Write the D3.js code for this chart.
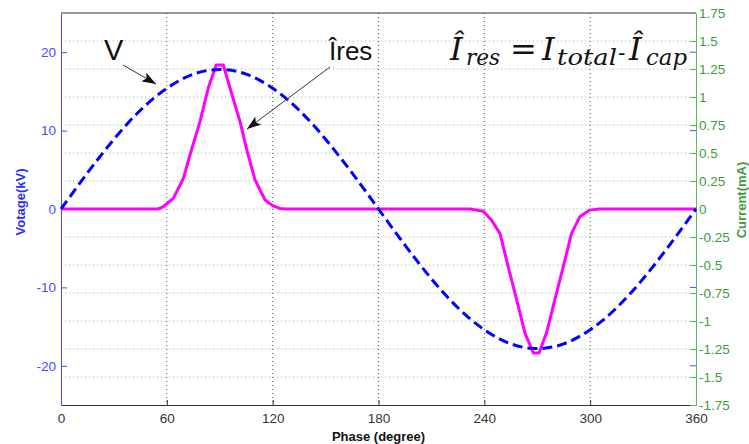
<!DOCTYPE html>
<html>
<head>
<meta charset="utf-8">
<script src="https://cdn.jsdelivr.net/npm/d3@7/dist/d3.min.js"></script>
<style>
  body { margin: 0; background: #fff; }
  svg { display: block; font-family: Arial, "Liberation Sans", sans-serif; }
</style>
</head>
<body>
<div id="chart"></div>
<script>
// supply voltage, read every 15 degrees (kV)
var phaseV = [0, 15, 30, 45, 60, 75, 90, 105, 120, 135, 150, 165, 180,
              195, 210, 225, 240, 255, 270, 285, 300, 315, 330, 345, 360];
var voltage = [0, 4.6, 8.9, 12.6, 15.4, 17.2, 17.8, 17.2, 15.4, 12.6, 8.9, 4.6, 0,
               -4.6, -8.9, -12.6, -15.4, -17.2, -17.8, -17.2, -15.4, -12.6, -8.9, -4.6, 0];

// resistive current (mA)
var phaseI = [0, 55, 58, 63.7, 69.3, 73.1, 78.8, 83.5, 88, 92, 95.8, 101.5, 105.3, 110, 115.7, 120, 124, 128,
              232, 239.4, 244.1, 248.9, 253.6, 258.3, 263.1, 267.8, 271, 275.2, 280, 284.7, 289.4, 294.1, 299.8, 305, 360];
var current = [0, 0, 0.02, 0.095, 0.27, 0.48, 0.78, 1.08, 1.285, 1.285, 1.08, 0.78, 0.53, 0.26, 0.08, 0.03, 0.005, 0,
               0, -0.02, -0.1, -0.22, -0.52, -0.81, -1.11, -1.285, -1.285, -1.11, -0.81, -0.52, -0.22, -0.07, -0.01, 0, 0];

var xTicks = [0, 60, 120, 180, 240, 300, 360];
var vTicks = [-20, -10, 0, 10, 20];
var iTicks = [-1.75, -1.5, -1.25, -1, -0.75, -0.5, -0.25, 0, 0.25, 0.5, 0.75, 1, 1.25, 1.5, 1.75];

var W = 749, H = 444;
var margin = {top: 13, right: 53, bottom: 39, left: 61},
    width = W - margin.left - margin.right,
    height = H - margin.top - margin.bottom;

var blue = "#0000ff", leftCol = "#4b4bff", green = "#3d9b3d", greenLine = "#5db85d";

// plain hyphen like the original, no trailing zeros
function fmt(d) { return String(+d.toFixed(2)); }

var svg = d3.select("#chart").append("svg")
    .attr("width", W)
    .attr("height", H);

var defs = svg.append("defs");
defs.append("marker")
    .attr("id", "arrow")
    .attr("markerUnits", "userSpaceOnUse")
    .attr("viewBox", "0 0 14 10")
    .attr("refX", 14).attr("refY", 5)
    .attr("markerWidth", 14).attr("markerHeight", 10)
    .attr("orient", "auto")
  .append("path")
    .attr("d", "M0,0 L14,5 L0,10 L3,5 Z")
    .attr("fill", "#111");

var g = svg.append("g")
    .attr("transform", "translate(" + margin.left + "," + margin.top + ")");

var x = d3.scaleLinear().domain([0, 360]).range([0, width]);
var yV = d3.scaleLinear().domain([-25, 25]).range([height, 0]);
var yI = d3.scaleLinear().domain([-1.75, 1.75]).range([height, 0]);

// grid
g.append("g").selectAll("line")
    .data(iTicks.filter(function(d) { return Math.abs(d) < 1.7; }))
    .enter().append("line")
    .attr("x1", 0).attr("x2", width)
    .attr("y1", function(d) { return yI(d); })
    .attr("y2", function(d) { return yI(d); })
    .attr("stroke", "#7cc47c")
    .attr("stroke-width", 1)
    .attr("stroke-dasharray", "1,3");

g.append("g").selectAll("line")
    .data(xTicks.slice(1, -1))
    .enter().append("line")
    .attr("x1", function(d) { return x(d); })
    .attr("x2", function(d) { return x(d); })
    .attr("y1", 0).attr("y2", height)
    .attr("stroke", "#555")
    .attr("stroke-width", 1)
    .attr("stroke-dasharray", "1,3");

// top border
g.append("line")
    .attr("x1", 0).attr("x2", width).attr("y1", 0).attr("y2", 0)
    .attr("stroke", "#333");

// x axis
var xAxis = g.append("g")
    .attr("transform", "translate(0," + height + ")")
    .call(d3.axisBottom(x).tickValues(xTicks).tickSizeInner(-5).tickSizeOuter(0).tickPadding(8).tickFormat(fmt));
xAxis.select(".domain").attr("stroke", "#333");
xAxis.selectAll(".tick line").attr("stroke", "#333");
xAxis.selectAll("text").attr("fill", "#333").style("font-size", "13.5px");

// left axis
var lAxis = g.append("g")
    .call(d3.axisLeft(yV).tickValues(vTicks).tickSizeInner(-6).tickSizeOuter(0).tickPadding(5).tickFormat(fmt));
lAxis.select(".domain").attr("stroke", leftCol);
lAxis.selectAll(".tick line").attr("stroke", leftCol);
lAxis.selectAll("text").attr("fill", leftCol).style("font-size", "13.5px");

// mirrored voltage ticks on the right side
g.append("g").selectAll("line")
    .data(vTicks)
    .enter().append("line")
    .attr("x1", width - 6).attr("x2", width)
    .attr("y1", function(d) { return yV(d); })
    .attr("y2", function(d) { return yV(d); })
    .attr("stroke", leftCol);

// right axis
var rAxis = g.append("g")
    .attr("transform", "translate(" + width + ",0)")
    .call(d3.axisRight(yI).tickValues(iTicks).tickSizeInner(-6).tickSizeOuter(0).tickPadding(3).tickFormat(fmt));
rAxis.select(".domain").attr("stroke", greenLine);
rAxis.selectAll(".tick line").attr("stroke", greenLine);
rAxis.selectAll("text").attr("fill", green).style("font-size", "13.5px");

// curves
var vLine = d3.line()
    .x(function(d, i) { return x(phaseV[i]); })
    .y(function(d) { return yV(d); })
    .curve(d3.curveNatural);

var iLine = d3.line()
    .x(function(d, i) { return x(phaseI[i]); })
    .y(function(d) { return yI(d); });

g.append("path")
    .datum(current)
    .attr("d", iLine)
    .attr("fill", "none")
    .attr("stroke", "#ff00ff")
    .attr("stroke-width", 3)
    .attr("stroke-linejoin", "round");

g.append("path")
    .datum(voltage)
    .attr("d", vLine)
    .attr("fill", "none")
    .attr("stroke", blue)
    .attr("stroke-width", 3)
    .attr("stroke-dasharray", "10,5");

// axis titles
svg.append("text")
    .attr("transform", "translate(25,202) rotate(-90)")
    .attr("text-anchor", "middle")
    .attr("fill", "#2b2bff")
    .style("font-size", "13px")
    .style("font-weight", "bold")
    .text("Votage(kV)");

svg.append("text")
    .attr("transform", "translate(746,200) rotate(-90)")
    .attr("text-anchor", "middle")
    .attr("fill", green)
    .style("font-size", "13px")
    .style("font-weight", "bold")
    .text("Current(mA)");

svg.append("text")
    .attr("x", margin.left + width / 2).attr("y", 441)
    .attr("text-anchor", "middle")
    .attr("fill", "#111")
    .style("font-size", "13px")
    .style("font-weight", "bold")
    .text("Phase (degree)");

// annotations
svg.append("text")
    .attr("x", 104).attr("y", 60)
    .style("font-size", "29px")
    .attr("fill", "#111")
    .text("V");
svg.append("line")
    .attr("x1", 123).attr("y1", 65).attr("x2", 156).attr("y2", 84)
    .attr("stroke", "#333").attr("stroke-width", 1)
    .attr("marker-end", "url(#arrow)");

svg.append("text")
    .attr("x", 329).attr("y", 60)
    .style("font-size", "26px")
    .attr("fill", "#111")
    .text("Îres");
svg.append("line")
    .attr("x1", 330).attr("y1", 67).attr("x2", 247).attr("y2", 129)
    .attr("stroke", "#333").attr("stroke-width", 1)
    .attr("marker-end", "url(#arrow)");

// formula
var f = svg.append("text")
    .attr("y", 60)
    .attr("fill", "#111")
    .style("font-family", "'DejaVu Serif', 'Liberation Serif', serif");
f.append("tspan").attr("x", 450).style("font-size", "32px").style("font-style", "italic").text("Î");
f.append("tspan").attr("x", 466).attr("y", 65).style("font-size", "22px").style("font-style", "italic")
    .attr("textLength", 34).attr("lengthAdjust", "spacingAndGlyphs").text("res");
f.append("tspan").attr("x", 510).attr("y", 60).style("font-size", "32px").text("=");
f.append("tspan").attr("x", 542).style("font-size", "32px").style("font-style", "italic").text("I");
f.append("tspan").attr("x", 557).attr("y", 65).style("font-size", "22px").style("font-style", "italic")
    .attr("textLength", 60).attr("lengthAdjust", "spacingAndGlyphs").text("total");
f.append("tspan").attr("x", 618).attr("y", 60).style("font-size", "22px").text("-");
f.append("tspan").attr("x", 629).style("font-size", "32px").style("font-style", "italic").text("Î");
f.append("tspan").attr("x", 646).attr("y", 65).style("font-size", "22px").style("font-style", "italic")
    .attr("textLength", 41).attr("lengthAdjust", "spacingAndGlyphs").text("cap");
</script>
</body>
</html>
